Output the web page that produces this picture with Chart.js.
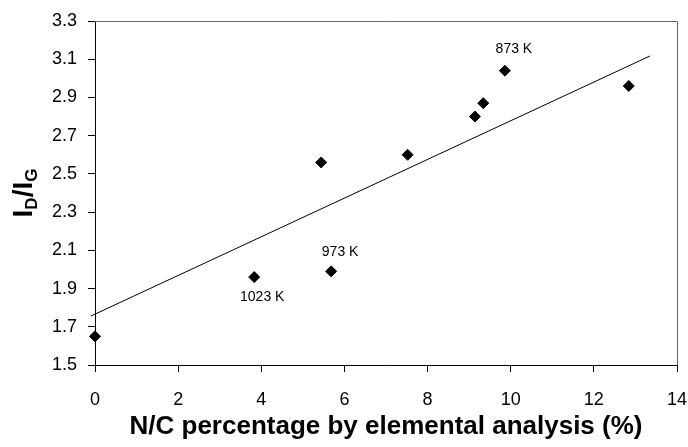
<!DOCTYPE html>
<html>
<head>
<meta charset="utf-8">
<script src="https://cdn.jsdelivr.net/npm/chart.js@4.4.1/dist/chart.umd.min.js"></script>
<style>
  html, body { margin: 0; padding: 0; background: #fff; }
  #wrap { width: 688px; height: 447px; }
</style>
</head>
<body>
<div id="wrap"><canvas id="chart" width="688" height="447"></canvas></div>
<script>
// measured points (N/C %, ID/IG)
var ncPercent = [0, 3.83, 5.44, 5.68, 7.52, 9.14, 9.34, 9.86, 12.84];
var ratioDG = [1.65, 1.96, 2.56, 1.99, 2.60, 2.80, 2.87, 3.04, 2.96];

// linear fit line, two ends
var trendX = [-0.1, 13.35];
var trendY = [1.756, 3.117];

// temperature notes: which point, text
var noteIndex = [1, 3, 7];
var noteText = ['1023 K', '973 K', '873 K'];
var noteOffset = [[8, 20], [9, -19], [9, -22]];

var xTicks = [0, 2, 4, 6, 8, 10, 12, 14];
var yTicks = [1.5, 1.7, 1.9, 2.1, 2.3, 2.5, 2.7, 2.9, 3.1, 3.3];

var FONT = "'Liberation Sans', Arial, sans-serif";

var points = ncPercent.map(function (x, i) { return { x: x, y: ratioDG[i] }; });
var trend = trendX.map(function (x, i) { return { x: x, y: trendY[i] }; });

// frame, axis titles and notes
var extras = {
  id: 'extras',
  afterDraw: function (chart) {
    var ctx = chart.ctx;
    var a = chart.chartArea;
    var xs = chart.scales.x, ys = chart.scales.y;

    ctx.save();
    ctx.strokeStyle = '#666';
    ctx.lineWidth = 1;
    ctx.beginPath();
    ctx.moveTo(a.left, a.top + 0.5);
    ctx.lineTo(a.right + 0.5, a.top + 0.5);
    ctx.lineTo(a.right + 0.5, a.bottom);
    ctx.stroke();

    ctx.fillStyle = '#000';
    ctx.font = '14px ' + FONT;
    ctx.textAlign = 'center';
    ctx.textBaseline = 'middle';
    noteIndex.forEach(function (idx, i) {
      var px = xs.getPixelForValue(ncPercent[idx]);
      var py = ys.getPixelForValue(ratioDG[idx]);
      ctx.fillText(noteText[i], px + noteOffset[i][0], py + noteOffset[i][1]);
    });

    // x title
    ctx.font = 'bold 26px ' + FONT;
    ctx.fillText('N/C percentage by elemental analysis (%)', (a.left + a.right) / 2, 427);

    // y title I_D/I_G
    ctx.translate(22, (a.top + a.bottom) / 2);
    ctx.rotate(-Math.PI / 2);
    var big = 'bold 28px ' + FONT, small = 'bold 17px ' + FONT;
    var parts = [['I', big, 0], ['D', small, 5], ['/I', big, 0], ['G', small, 5]];
    var total = 0;
    parts.forEach(function (p) { ctx.font = p[1]; total += ctx.measureText(p[0]).width; });
    var cx = -total / 2;
    ctx.textAlign = 'left';
    ctx.textBaseline = 'alphabetic';
    parts.forEach(function (p) {
      ctx.font = p[1];
      ctx.fillText(p[0], cx, 10 + p[2]);
      cx += ctx.measureText(p[0]).width;
    });
    ctx.restore();
  }
};

new Chart(document.getElementById('chart').getContext('2d'), {
  data: {
    datasets: [{
      type: 'scatter',
      data: points,
      pointStyle: 'rectRot',
      pointRadius: 5.5,
      pointHoverRadius: 5.5,
      backgroundColor: '#000',
      borderColor: '#000',
      borderWidth: 1,
      clip: false
    }, {
      type: 'line',
      data: trend,
      borderColor: '#000',
      borderWidth: 1,
      pointRadius: 0,
      fill: false,
      clip: 8
    }]
  },
  options: {
    responsive: false,
    animation: false,
    devicePixelRatio: 1,
    layout: { padding: { left: 0, right: 11, top: 21, bottom: 0 } },
    plugins: { legend: { display: false }, tooltip: { enabled: false } },
    scales: {
      x: {
        type: 'linear',
        min: 0, max: 14,
        afterBuildTicks: function (s) { s.ticks = xTicks.map(function (v) { return { value: v }; }); },
        afterFit: function (s) { s.height = 82; s.paddingLeft = 0; s.paddingRight = 0; },
        ticks: { color: '#000', font: { family: FONT, size: 18 }, padding: 17, maxRotation: 0 },
        grid: { drawOnChartArea: false, drawTicks: true, tickLength: 7, color: '#000' },
        border: { display: true, color: '#000', width: 1 }
      },
      y: {
        type: 'linear',
        min: 1.5, max: 3.3,
        afterBuildTicks: function (s) { s.ticks = yTicks.map(function (v) { return { value: v }; }); },
        afterFit: function (s) { s.width = 95; s.paddingTop = 0; s.paddingBottom = 0; },
        ticks: {
          color: '#000', font: { family: FONT, size: 18 }, padding: 11,
          callback: function (v) { return v.toFixed(1); }
        },
        grid: { drawOnChartArea: false, drawTicks: true, tickLength: 7, color: '#000' },
        border: { display: true, color: '#000', width: 1 }
      }
    }
  },
  plugins: [extras]
});
</script>
</body>
</html>
